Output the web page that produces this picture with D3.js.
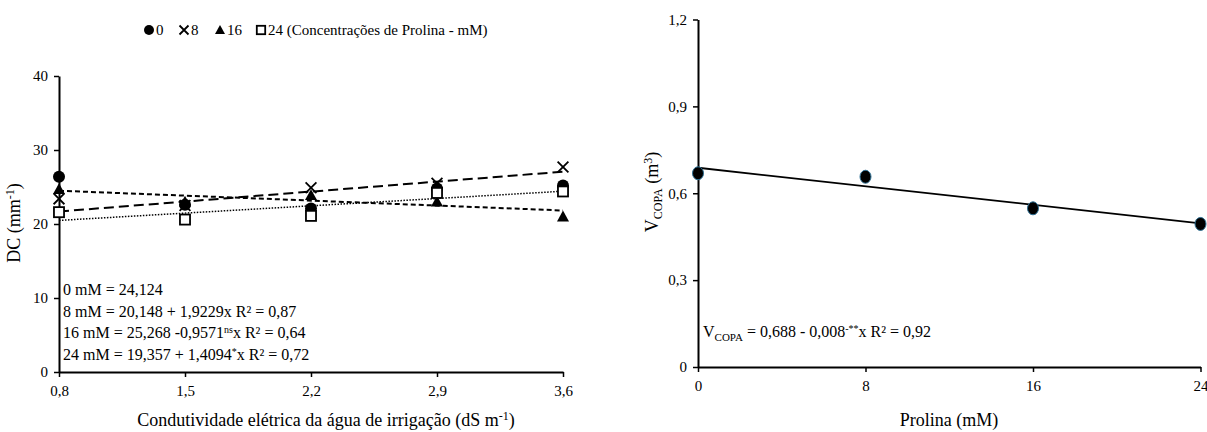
<!DOCTYPE html>
<html>
<head>
<meta charset="utf-8">
<script src="https://cdn.jsdelivr.net/npm/d3@7"></script>
<style>
  body { margin: 0; background: #fff; }
  svg text { font-family: 'Liberation Serif', 'Times New Roman', 'DejaVu Serif', serif !important; fill: #000; }
</style>
</head>
<body>
<div id="chart"></div>
<script>
// left panel: DC vs electrical conductivity, one series per proline level
const ecLevels = [0.8, 1.5, 2.2, 2.9, 3.6];
const prolineNames = ['0', '8', '16', '24'];
const dc0 = [26.4, 22.6, 22.1, 24.8, 25.2];
const dc8 = [23.4, 22.5, 24.9, 25.5, 27.7];
const dc16 = [24.7, 23.0, 23.9, 23.0, 21.0];
const dc24 = [21.6, 20.6, 21.1, 24.2, 24.4];
// regression coefficients (intercept, slope); 0 mM has no fitted line
const fitIntercept = [null, 20.148, 25.268, 19.357];
const fitSlope = [null, 1.9229, -0.9571, 1.4094];
const dcTicks = [0, 10, 20, 30, 40];

// right panel: V_COPA vs proline
const prolineLevels = [0, 8, 16, 24];
const vCopa = [0.669, 0.657, 0.548, 0.494];
const vFit = [0.688, -0.008];
const vTicks = [0, 0.3, 0.6, 0.9, 1.2];

const width = 1207, height = 432;
const comma = f => d => d3.format(f)(d).replace('.', ',');

let svg = d3.select('#chart')
  .append('svg')
  .attr('width', width)
  .attr('height', height);

// ---------- left chart ----------
let xL = d3.scaleLinear().domain([0.8, 3.6]).range([59, 563]);
let yL = d3.scaleLinear().domain([0, 40]).range([372, 76]);

let styleAxis = function(g) {
  g.attr('font-family', null).attr('font-size', null);
  g.select('.domain').attr('stroke', '#000').attr('stroke-width', 2);
  g.selectAll('.tick line').attr('stroke', '#000').attr('stroke-width', 1.5);
  g.selectAll('.tick text').style('font-size', '15px');
};

svg.append('g')
  .attr('transform', 'translate(0,' + yL(0) + ')')
  .call(d3.axisBottom(xL).tickValues(ecLevels).tickSize(5).tickSizeOuter(0)
    .tickPadding(8).tickFormat(comma('.1f')))
  .call(styleAxis);

svg.append('g')
  .attr('transform', 'translate(' + xL(0.8) + ',0)')
  .call(d3.axisLeft(yL).tickValues(dcTicks).tickSize(5).tickSizeOuter(0)
    .tickPadding(6).tickFormat(d3.format('d')))
  .call(styleAxis);

// fitted lines
const dashes = [null, '10,5', '5,3', '1.5,1.5'];
const lineWidths = [0, 2, 2, 1.5];
fitIntercept.forEach((a, i) => {
  if (a === null) return;
  let b = fitSlope[i];
  svg.append('line')
    .attr('x1', xL(0.8)).attr('y1', yL(a + b * 0.8))
    .attr('x2', xL(3.6)).attr('y2', yL(a + b * 3.6))
    .attr('stroke', '#000')
    .attr('stroke-width', lineWidths[i])
    .attr('stroke-dasharray', dashes[i]);
});

// markers
const seriesDC = [dc0, dc8, dc16, dc24];
let drawMarker = function(g, kind, x, y, s) {
  if (kind === 0) {
    g.append('circle').attr('cx', x).attr('cy', y).attr('r', s * 0.5).attr('fill', '#000');
  } else if (kind === 1) {
    let h = s * 0.45;
    g.append('path')
      .attr('d', `M${x - h},${y - h}L${x + h},${y + h}M${x - h},${y + h}L${x + h},${y - h}`)
      .attr('stroke', '#000').attr('stroke-width', 1.8).attr('fill', 'none');
  } else if (kind === 2) {
    let h = s * 0.5;
    g.append('path')
      .attr('d', `M${x},${y - h}L${x + h},${y + h * 0.8}L${x - h},${y + h * 0.8}Z`)
      .attr('fill', '#000');
  } else {
    let h = s * 0.42;
    g.append('rect').attr('x', x - h).attr('y', y - h).attr('width', 2 * h).attr('height', 2 * h)
      .attr('fill', '#fff').attr('stroke', '#000').attr('stroke-width', 1.8);
  }
};
let markers = svg.append('g');
seriesDC.forEach((vals, k) => {
  vals.forEach((v, j) => drawMarker(markers, k, xL(ecLevels[j]), yL(v), 12));
});

// legend
const legendX = [149, 184, 220, 261];
let legend = svg.append('g');
prolineNames.forEach((n, k) => {
  drawMarker(legend, k, legendX[k], 30, 10);
  legend.append('text')
    .attr('x', legendX[k] + 7)
    .attr('y', 35)
    .style('font-size', '15px')
    .text(k === 3 ? n + ' (Concentrações de Prolina - mM)' : n);
});

// equations
let eq = svg.append('g').style('font-size', '16px');
let eqLine = function(y, parts) {
  let t = eq.append('text').attr('x', 63).attr('y', y);
  parts.forEach(p => {
    let s = t.append('tspan').text(p[0]);
    if (p[1] === 'sup') s.attr('dy', -5).style('font-size', '10px');
    if (p[1] === 'back') s.attr('dy', 5);
  });
};
eqLine(295, [['0 mM = 24,124']]);
eqLine(317, [['8 mM = 20,148 + 1,9229x  R² = 0,87']]);
eqLine(338, [['16 mM = 25,268 -0,9571'], ['ns', 'sup'], ['x  R² = 0,64', 'back']]);
eqLine(360, [['24 mM = 19,357 + 1,4094'], ['*', 'sup'], ['x R² = 0,72', 'back']]);

// axis titles
let xt = svg.append('text')
  .attr('x', 326).attr('y', 426)
  .attr('text-anchor', 'middle')
  .style('font-size', '18px');
xt.append('tspan').text('Condutividade elétrica da água de irrigação (dS m');
xt.append('tspan').text('-1').attr('dy', -6).style('font-size', '12px');
xt.append('tspan').text(')').attr('dy', 6);

let yt = svg.append('text')
  .attr('transform', 'translate(20,223) rotate(-90)')
  .attr('text-anchor', 'middle')
  .style('font-size', '18px');
yt.append('tspan').text('DC (mm');
yt.append('tspan').text('-1').attr('dy', -6).style('font-size', '12px');
yt.append('tspan').text(')').attr('dy', 6);

// ---------- right chart ----------
let xR = d3.scaleLinear().domain([0, 24]).range([698, 1200.5]);
let yR = d3.scaleLinear().domain([0, 1.2]).range([367, 19.5]);

svg.append('g')
  .attr('transform', 'translate(0,' + yR(0) + ')')
  .call(d3.axisBottom(xR).tickValues(prolineLevels).tickSize(5).tickSizeOuter(0)
    .tickPadding(8).tickFormat(d3.format('d')))
  .call(styleAxis);

svg.append('g')
  .attr('transform', 'translate(' + xR(0) + ',0)')
  .call(d3.axisLeft(yR).tickValues(vTicks).tickSize(5).tickSizeOuter(0)
    .tickPadding(6).tickFormat(d => d === 0 ? '0' : comma('.1f')(d)))
  .call(styleAxis);

svg.append('line')
  .attr('x1', xR(0)).attr('y1', yR(vFit[0]))
  .attr('x2', xR(24)).attr('y2', yR(vFit[0] + vFit[1] * 24))
  .attr('stroke', '#000')
  .attr('stroke-width', 1.8);

svg.selectAll('ellipse.pt')
  .data(prolineLevels)
  .enter()
  .append('ellipse')
  .attr('class', 'pt')
  .attr('cx', d => xR(d))
  .attr('cy', (d, i) => yR(vCopa[i]))
  .attr('rx', 5.5)
  .attr('ry', 6.5)
  .attr('fill', '#000')
  .attr('stroke', '#2c6f94')
  .attr('stroke-width', 1);

let eqR = svg.append('text')
  .attr('x', 703).attr('y', 337)
  .style('font-size', '16px');
eqR.append('tspan').text('V');
eqR.append('tspan').text('COPA').attr('dy', 4).style('font-size', '11px');
eqR.append('tspan').text(' = 0,688 - 0,008').attr('dy', -4);
eqR.append('tspan').text('-**').attr('dy', -5).style('font-size', '10px');
eqR.append('tspan').text('x R² = 0,92').attr('dy', 5);

svg.append('text')
  .attr('x', 949).attr('y', 426)
  .attr('text-anchor', 'middle')
  .style('font-size', '18px')
  .text('Prolina (mM)');

let ytR = svg.append('text')
  .attr('transform', 'translate(658,192) rotate(-90)')
  .attr('text-anchor', 'middle')
  .style('font-size', '18px');
ytR.append('tspan').text('V');
ytR.append('tspan').text('COPA').attr('dy', 4).style('font-size', '12px');
ytR.append('tspan').text(' (m').attr('dy', -4);
ytR.append('tspan').text('3').attr('dy', -6).style('font-size', '12px');
ytR.append('tspan').text(')').attr('dy', 6);
</script>
</body>
</html>
